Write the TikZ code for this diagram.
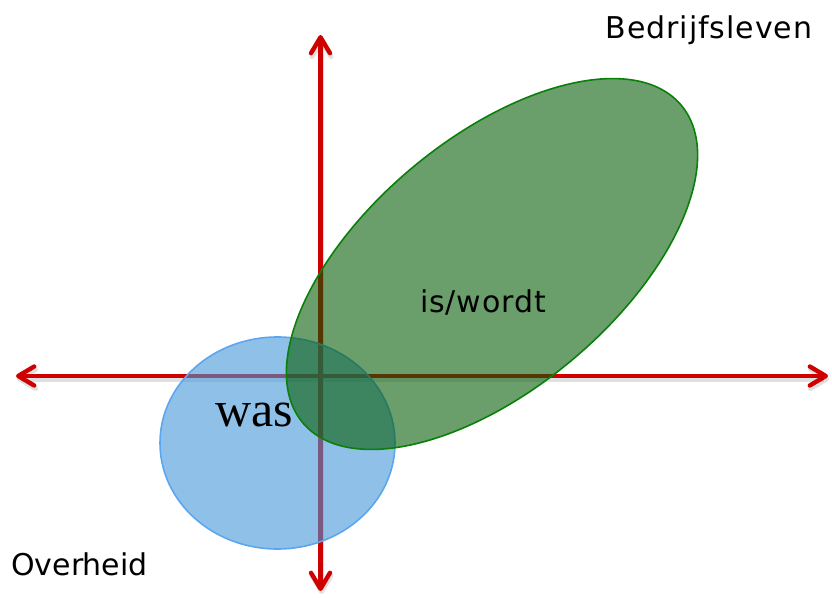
\documentclass[tikz,border=0pt]{standalone}
\usepackage{fontspec}
\setmainfont{Liberation Serif}
\newfontfamily\kopfont{DejaVu Sans}
\newfontfamily\breedfont[LetterSpace=3]{DejaVu Sans}
\usepackage{xcolor}
\usepackage{tikz}
\usetikzlibrary{positioning, arrows.meta, shapes.geometric}

\definecolor{asrood}{RGB}{206,0,0}
\definecolor{wasblauw}{RGB}{68,150,217}
\definecolor{wasrand}{RGB}{92,166,240}
\definecolor{nugroen}{RGB}{7,93,7}
\definecolor{nurand}{RGB}{10,128,10}

\begin{document}
\begin{tikzpicture}[
    x=1pt, y=-1pt,
    as/.style={draw=asrood, line width=4.4pt,
        {Straight Barb[length=16pt,width=19pt,round]}-{Straight Barb[length=16pt,width=19pt,round]}},
    asschaduw/.style={draw=black, opacity=0.12, line width=5pt,
        {Straight Barb[length=16pt,width=19pt,round]}-{Straight Barb[length=16pt,width=19pt,round]},
        transform canvas={shift={(1pt,-3pt)}}},
    vlek/.style={ellipse, inner sep=0pt, outer sep=0pt, line width=1.6pt},
    tekst/.style={font=\kopfont\fontsize{30}{30}\selectfont, anchor=base, inner sep=0pt},
    breedtekst/.style={tekst, font=\breedfont\fontsize{30}{30}\selectfont}
]
    \useasboundingbox (0,0) rectangle (832,597);

    % Assen
    \coordinate (west) at (16,376);
    \coordinate (oost) at (828,376);
    \coordinate (noord) at (320.5,35);
    \coordinate (zuid) at (320.5,591);
    \draw[asschaduw] (west) -- (oost);
    \draw[asschaduw] (noord) -- (zuid);
    \draw[as] (west) -- (oost);
    \draw[as] (noord) -- (zuid);

    % Vlakken
    \node[vlek, draw=wasrand, fill=wasblauw, fill opacity=0.6,
        minimum width=235pt, minimum height=212pt] (was) at (277.5,443) {};
    \node[vlek, draw=nurand, fill=nugroen, fill opacity=0.6, rotate=40,
        minimum width=494pt, minimum height=250pt] (nu) at (492,264) {};

    % Teksten
    \node[anchor=base, inner sep=0pt, font=\fontsize{50}{50}\selectfont] (wastekst) at (254,426) {was};
    \node[breedtekst] (nutekst) at (483,312) {is/wordt};
    \node[breedtekst] (bedrijf) at (709,38) {Bedrijfsleven};
    \node[tekst] (overheid) at (79.5,575) {Overheid};

\end{tikzpicture}
\end{document}
